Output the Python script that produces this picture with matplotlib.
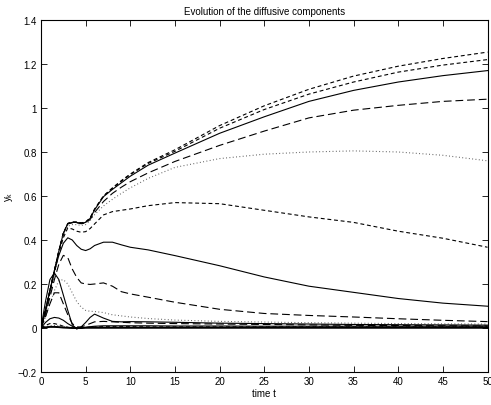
import matplotlib
matplotlib.use("Agg")
import matplotlib.pyplot as plt

plt.rcParams['font.family'] = ['Liberation Sans', 'DejaVu Sans']

# sample times
t = [0, 0.5, 1, 1.5, 2, 2.5, 3, 3.5, 4, 4.5, 5, 5.5, 6, 7, 8, 9, 10, 12, 15, 20, 25, 30, 35, 40, 45, 50]

# components
y_a = [0, 0.08, 0.17, 0.26, 0.35, 0.43, 0.475, 0.482, 0.482, 0.478, 0.482, 0.5, 0.54, 0.6, 0.637, 0.67, 0.70, 0.752, 0.81, 0.92, 1.01, 1.085, 1.145, 1.19, 1.225, 1.254]
y_b = [0, 0.08, 0.17, 0.26, 0.35, 0.43, 0.475, 0.481, 0.481, 0.477, 0.481, 0.5, 0.54, 0.6, 0.635, 0.667, 0.697, 0.748, 0.803, 0.908, 0.993, 1.063, 1.118, 1.163, 1.195, 1.22]
y_c = [0, 0.08, 0.17, 0.26, 0.35, 0.43, 0.475, 0.48, 0.48, 0.476, 0.48, 0.498, 0.537, 0.597, 0.63, 0.66, 0.69, 0.74, 0.795, 0.885, 0.96, 1.03, 1.08, 1.118, 1.147, 1.17]
y_d = [0, 0.08, 0.17, 0.26, 0.35, 0.43, 0.473, 0.478, 0.478, 0.474, 0.477, 0.493, 0.525, 0.575, 0.612, 0.64, 0.665, 0.705, 0.757, 0.83, 0.895, 0.955, 0.99, 1.012, 1.03, 1.04]
y_e = [0, 0.07, 0.16, 0.25, 0.34, 0.42, 0.463, 0.47, 0.47, 0.466, 0.47, 0.488, 0.515, 0.555, 0.585, 0.612, 0.637, 0.68, 0.73, 0.77, 0.79, 0.80, 0.805, 0.80, 0.785, 0.76]
y_f = [0, 0.07, 0.16, 0.25, 0.34, 0.41, 0.455, 0.45, 0.44, 0.435, 0.438, 0.452, 0.473, 0.514, 0.529, 0.535, 0.541, 0.556, 0.570, 0.565, 0.535, 0.505, 0.48, 0.44, 0.408, 0.367]
y_g = [0, 0.08, 0.17, 0.26, 0.33, 0.385, 0.41, 0.40, 0.375, 0.358, 0.352, 0.36, 0.375, 0.39, 0.39, 0.378, 0.367, 0.355, 0.329, 0.283, 0.232, 0.19, 0.162, 0.134, 0.113, 0.099]
y_h = [0, 0.06, 0.14, 0.22, 0.29, 0.33, 0.32, 0.268, 0.23, 0.205, 0.2, 0.198, 0.2, 0.205, 0.19, 0.165, 0.155, 0.14, 0.117, 0.085, 0.066, 0.057, 0.05, 0.042, 0.035, 0.029]
y_i = [0, 0.05, 0.11, 0.17, 0.215, 0.22, 0.2, 0.16, 0.12, 0.095, 0.08, 0.076, 0.075, 0.07, 0.06, 0.055, 0.05, 0.043, 0.036, 0.03, 0.027, 0.024, 0.022, 0.02, 0.019, 0.018]
y_j = [0, 0.12, 0.22, 0.25, 0.22, 0.15, 0.08, 0.015, -0.005, 0.005, 0.025, 0.048, 0.063, 0.045, 0.03, 0.028, 0.029, 0.028, 0.026, 0.022, 0.02, 0.018, 0.016, 0.015, 0.014, 0.013]
y_k = [0, 0.05, 0.11, 0.16, 0.16, 0.11, 0.06, 0.02, 0.005, 0.005, 0.012, 0.02, 0.028, 0.03, 0.028, 0.026, 0.024, 0.022, 0.02, 0.018, 0.016, 0.014, 0.012, 0.011, 0.01, 0.009]
y_l = [0, 0.025, 0.042, 0.048, 0.045, 0.035, 0.02, 0.008, 0.0, 0.0, 0.003, 0.006, 0.008, 0.01, 0.01, 0.01, 0.01, 0.01, 0.009, 0.009, 0.008, 0.008, 0.008, 0.008, 0.008, 0.008]
y_m = [0, 0.012, 0.02, 0.02, 0.015, 0.008, 0.003, 0.0, -0.002, 0.0, 0.002, 0.004, 0.005, 0.006, 0.006, 0.006, 0.006, 0.005, 0.005, 0.005, 0.005, 0.005, 0.005, 0.005, 0.005, 0.005]
y_n = [0, 0.006, 0.01, 0.012, 0.01, 0.006, 0.003, 0.001, 0.0, 0.001, 0.002, 0.003, 0.003, 0.003, 0.003, 0.003, 0.003, 0.003, 0.003, 0.003, 0.003, 0.003, 0.003, 0.003, 0.003, 0.003]
y_o = [0, 0.003, 0.005, 0.005, 0.004, 0.002, 0.001, 0.0, 0.0, 0.0, 0.001, 0.001, 0.001, 0.001, 0.001, 0.001, 0.001, 0.001, 0.001, 0.001, 0.001, 0.001, 0.001, 0.001, 0.001, 0.001]

xticks = [0, 5, 10, 15, 20, 25, 30, 35, 40, 45, 50]
yticks = [-0.2, 0, 0.2, 0.4, 0.6, 0.8, 1, 1.2, 1.4]
ytick_labels = ['\u22120.2', '0', '0.2', '0.4', '0.6', '0.8', '1', '1.2', '1.4']

solid = dict(color='k', lw=0.8, linestyle='-')
short_dash = dict(color='k', lw=0.8, linestyle=(0, (3.5, 2.5)))
long_dash = dict(color='k', lw=0.8, linestyle=(0, (7, 3.5)))
dotted = dict(color='0.35', lw=0.8, linestyle=(0, (0.8, 2.2)))

fig = plt.figure(figsize=(4.91, 4.06), dpi=100)
ax = fig.add_axes([0.0835, 0.0813, 0.9094, 0.8670])

ax.plot(t, y_a, **short_dash)
ax.plot(t, y_b, **short_dash)
ax.plot(t, y_c, **solid)
ax.plot(t, y_d, **long_dash)
ax.plot(t, y_e, **dotted)
ax.plot(t, y_f, **short_dash)
ax.plot(t, y_g, **solid)
ax.plot(t, y_h, **long_dash)
ax.plot(t, y_i, **dotted)
ax.plot(t, y_j, **solid)
ax.plot(t, y_k, **long_dash)
ax.plot(t, y_l, **solid)
ax.plot(t, y_m, **short_dash)
ax.plot(t, y_n, **dotted)
ax.plot(t, y_o, color='k', lw=1.4)

ax.set_xlim(0, 50)
ax.set_ylim(-0.2, 1.4)
ax.set_xticks(xticks)
ax.set_yticks(yticks)
ax.set_yticklabels(ytick_labels)
ax.tick_params(direction='in', length=4, width=0.6, top=True, right=True,
               labelsize=7, pad=3)
for s in ax.spines.values():
    s.set_linewidth(0.8)

ax.set_title('Evolution of the diffusive components', fontsize=7, pad=4)
ax.set_xlabel('time t', fontsize=7, labelpad=1)
ax.set_ylabel('y$_\\mathregular{k}$', fontsize=7, labelpad=2)

fig.savefig('out.png', dpi=100)
